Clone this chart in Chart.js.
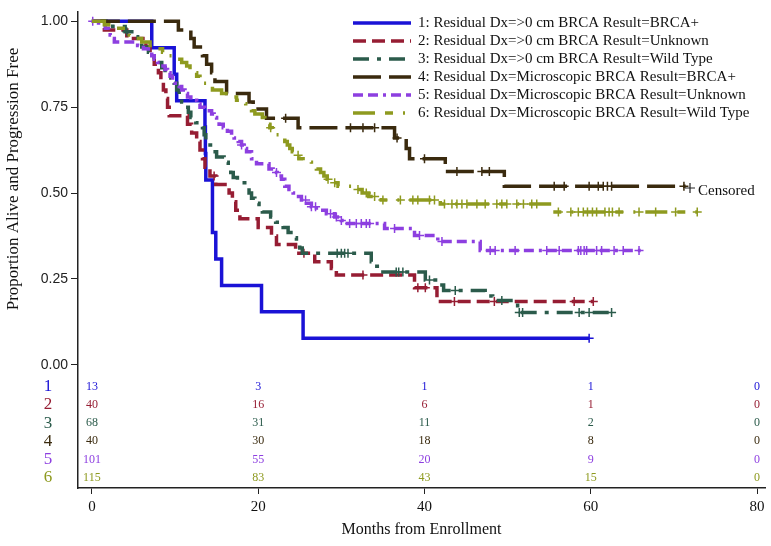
<!DOCTYPE html>
<html>
<head>
<meta charset="utf-8">
<script src="https://cdn.jsdelivr.net/npm/chart.js@4"></script>
<style>
html, body { margin: 0; padding: 0; background: #fff; }
</style>
</head>
<body>
<canvas id="grafico" width="771" height="546"></canvas>
<script>
// Curvas de Kaplan-Meier: tiempos de evento (meses) y supervivencia tras cada evento
const s1Tiempos = [7.2, 9.9, 10.2, 13.6, 13.65, 13.7, 14.5, 14.9, 15.6, 20.4, 25.4];
const s1Surv = [0.923, 0.846, 0.769, 0.692, 0.615, 0.538, 0.385, 0.308, 0.231, 0.154, 0.077];
const s1Cens = [59.8];

const s2Tiempos = [1.5, 4.2, 6.5, 7.0, 7.5, 8.0, 8.3, 8.6, 8.9, 9.1, 9.3, 11.5, 12.0, 12.6, 13.0, 13.3, 13.6, 14.2, 14.9, 16.5, 16.9, 17.3, 17.8, 20.0, 21.6, 22.2, 24.5, 26.8, 28.8, 29.4, 38.8, 41.5];
const s2Surv = [0.975, 0.95, 0.925, 0.90, 0.875, 0.85, 0.825, 0.80, 0.775, 0.75, 0.725, 0.70, 0.675, 0.65, 0.625, 0.60, 0.575, 0.55, 0.525, 0.50, 0.475, 0.45, 0.425, 0.40, 0.375, 0.35, 0.325, 0.30, 0.28, 0.261, 0.224, 0.184];
const s2Cens = [14.7, 25.5, 32.6, 39.2, 40.1, 43.6, 48.4, 58.0, 60.3];

const s3Tiempos = [2.5, 4.0, 4.8, 5.5, 6.0, 6.8, 7.5, 8.0, 8.4, 8.8, 9.5, 9.9, 10.2, 10.5, 10.8, 11.3, 11.6, 11.9, 12.5, 13.3, 13.5, 13.7, 13.9, 14.5, 15.0, 15.9, 16.4, 16.7, 17.0, 17.5, 18.6, 18.9, 19.2, 19.6, 20.1, 20.5, 21.5, 22.1, 23.0, 23.6, 24.3, 24.6, 25.0, 25.3, 33.6, 34.0, 35.0, 40.1, 41.8, 42.3, 47.3, 48.2, 51.2];
const s3Surv = [0.985, 0.97, 0.955, 0.94, 0.925, 0.91, 0.895, 0.88, 0.865, 0.85, 0.835, 0.82, 0.80, 0.785, 0.765, 0.75, 0.735, 0.72, 0.705, 0.69, 0.67, 0.655, 0.64, 0.62, 0.605, 0.59, 0.575, 0.56, 0.545, 0.53, 0.515, 0.50, 0.485, 0.47, 0.46, 0.445, 0.43, 0.415, 0.40, 0.385, 0.37, 0.355, 0.34, 0.325, 0.30, 0.287, 0.27, 0.247, 0.232, 0.216, 0.20, 0.187, 0.152];
const s3Cens = [4.2, 29.5, 30.0, 30.4, 30.8, 36.6, 36.9, 37.4, 40.6, 43.7, 49.3, 51.4, 51.8, 58.6, 59.8, 62.5];

const s4Tiempos = [10.4, 11.9, 12.3, 13.3, 13.8, 14.4, 14.8, 16.2, 18.9, 19.4, 21.0, 24.8, 36.4, 37.8, 38.2, 42.5, 49.6];
const s4Surv = [0.975, 0.95, 0.925, 0.90, 0.875, 0.85, 0.825, 0.79, 0.765, 0.745, 0.718, 0.69, 0.66, 0.63, 0.60, 0.563, 0.52];
const s4Cens = [23.3, 31.1, 32.6, 34.0, 36.7, 40.0, 43.9, 46.9, 47.8, 55.6, 56.8, 59.8, 60.9, 61.5, 62.0, 62.5, 71.2];

const s5Tiempos = [0.8, 1.6, 2.0, 2.2, 2.4, 2.7, 5.5, 6.2, 6.8, 7.2, 7.5, 7.9, 8.3, 8.8, 9.1, 9.4, 9.7, 10.0, 10.5, 10.8, 11.2, 11.5, 11.9, 12.6, 13.0, 13.6, 14.4, 14.7, 15.0, 15.3, 15.8, 16.3, 16.8, 17.1, 17.6, 18.0, 18.3, 18.6, 19.2, 19.8, 21.3, 21.8, 22.3, 22.8, 23.2, 23.7, 24.2, 24.6, 25.2, 25.8, 26.4, 27.0, 28.2, 29.2, 30.0, 30.5, 35.2, 38.8, 41.6, 46.7];
const s5Surv = [0.99, 0.98, 0.97, 0.96, 0.95, 0.94, 0.93, 0.92, 0.91, 0.90, 0.89, 0.88, 0.87, 0.86, 0.85, 0.84, 0.83, 0.82, 0.81, 0.80, 0.79, 0.78, 0.77, 0.76, 0.75, 0.74, 0.73, 0.72, 0.71, 0.70, 0.69, 0.68, 0.67, 0.66, 0.65, 0.64, 0.63, 0.62, 0.60, 0.585, 0.57, 0.56, 0.55, 0.54, 0.52, 0.51, 0.50, 0.49, 0.48, 0.47, 0.46, 0.45, 0.44, 0.43, 0.42, 0.411, 0.397, 0.376, 0.359, 0.333];
const s5Cens = [0.1, 18.0, 22.2, 25.7, 26.4, 26.9, 28.7, 29.4, 30.0, 31.0, 31.8, 32.4, 33.0, 33.4, 36.4, 39.4, 42.1, 47.9, 48.5, 50.9, 54.7, 56.2, 58.5, 58.8, 59.2, 59.5, 60.7, 61.3, 62.8, 63.9, 65.8];

const s6Tiempos = [1.5, 2.5, 4.0, 4.5, 5.3, 6.0, 7.0, 8.0, 8.5, 9.0, 10.0, 10.8, 11.4, 11.8, 12.3, 12.6, 13.0, 13.4, 14.0, 14.5, 15.6, 16.8, 17.4, 17.8, 18.5, 19.2, 19.6, 20.5, 20.8, 21.1, 21.4, 21.7, 22.0, 22.6, 23.2, 23.5, 23.8, 24.1, 24.5, 24.9, 25.4, 26.4, 27.0, 27.5, 27.9, 28.3, 28.7, 29.6, 31.5, 32.5, 33.3, 34.8, 41.9, 55.3];
const s6Surv = [0.99, 0.98, 0.97, 0.96, 0.95, 0.94, 0.93, 0.92, 0.91, 0.90, 0.89, 0.88, 0.87, 0.86, 0.85, 0.84, 0.83, 0.82, 0.81, 0.80, 0.79, 0.78, 0.77, 0.76, 0.75, 0.74, 0.73, 0.72, 0.71, 0.70, 0.69, 0.68, 0.67, 0.66, 0.65, 0.64, 0.63, 0.62, 0.61, 0.60, 0.59, 0.58, 0.57, 0.56, 0.55, 0.54, 0.53, 0.52, 0.51, 0.50, 0.49, 0.48, 0.468, 0.445];
const s6Cens = [21.5, 24.8, 28.4, 29.2, 32.0, 33.0, 34.0, 35.0, 37.1, 38.6, 39.2, 40.6, 41.2, 42.4, 43.3, 43.9, 44.5, 45.1, 46.3, 47.3, 48.7, 49.3, 49.9, 51.1, 51.9, 52.9, 53.5, 56.1, 57.6, 58.5, 59.1, 59.6, 60.2, 60.7, 61.7, 62.2, 62.6, 63.4, 65.8, 67.8, 70.2, 72.8];

// ultimo seguimiento de cada grupo
const finSeguimiento = [59.8, 60.3, 62.7, 71.4, 66.0, 72.8];

// tabla de pacientes en riesgo
const mesesRiesgo = [0, 20, 40, 60, 80];
const riesgo1 = [13, 3, 1, 1, 0];
const riesgo2 = [40, 16, 6, 1, 0];
const riesgo3 = [68, 31, 11, 2, 0];
const riesgo4 = [40, 30, 18, 8, 0];
const riesgo5 = [101, 55, 20, 9, 0];
const riesgo6 = [115, 83, 43, 15, 0];

const etiquetas = [
    '1: Residual Dx=>0 cm BRCA Result=BRCA+',
    '2: Residual Dx=>0 cm BRCA Result=Unknown',
    '3: Residual Dx=>0 cm BRCA Result=Wild Type',
    '4: Residual Dx=Microscopic BRCA Result=BRCA+',
    '5: Residual Dx=Microscopic BRCA Result=Unknown',
    '6: Residual Dx=Microscopic BRCA Result=Wild Type'
];
const ticksX = [0, 20, 40, 60, 80];
const ticksY = [0, 0.25, 0.5, 0.75, 1];

const colores = ['#1a12d6', '#961d33', '#2b5b4b', '#3a2a0e', '#8d3fe0', '#8e9a1f'];
const guiones = [[], [13, 6], [16, 8, 4, 8], [28, 8], [10, 5, 10, 5, 3, 5], [22, 10, 8, 10, 2, 10]];

const grupos = [
    [s1Tiempos, s1Surv, s1Cens, riesgo1],
    [s2Tiempos, s2Surv, s2Cens, riesgo2],
    [s3Tiempos, s3Surv, s3Cens, riesgo3],
    [s4Tiempos, s4Surv, s4Cens, riesgo4],
    [s5Tiempos, s5Surv, s5Cens, riesgo5],
    [s6Tiempos, s6Surv, s6Cens, riesgo6]
];

const serif = '"Liberation Serif", "Times New Roman", serif';

function valorEn(tiempos, surv, t) {
    let v = 1;
    for (let i = 0; i < tiempos.length; i++) {
        if (tiempos[i] <= t) v = surv[i];
    }
    return v;
}

function escalones(tiempos, surv, fin) {
    const puntos = [{ x: 0, y: 1 }];
    tiempos.forEach((t, i) => puntos.push({ x: t, y: surv[i] }));
    puntos.push({ x: fin, y: surv[surv.length - 1] });
    return puntos;
}

const datasets = [];
grupos.forEach((g, i) => {
    datasets.push({
        type: 'line',
        data: escalones(g[0], g[1], finSeguimiento[i]),
        stepped: true,
        borderColor: colores[i],
        borderWidth: 3.5,
        borderDash: guiones[i],
        pointRadius: 0,
        fill: false,
        order: 6 - i
    });
    datasets.push({
        type: 'scatter',
        data: g[2].map(t => ({ x: t, y: valorEn(g[0], g[1], t) })),
        pointStyle: 'cross',
        pointRadius: 4.5,
        borderColor: colores[i],
        borderWidth: 1.5,
        order: 6 - i
    });
});

// leyenda, tabla de riesgo y titulos de ejes
const extras = {
    id: 'extras',
    afterDraw(chart) {
        const ctx = chart.ctx;
        const ex = chart.scales.x;
        const ey = chart.scales.y;
        ctx.save();

        ctx.textBaseline = 'middle';
        etiquetas.forEach((txt, i) => {
            const yy = 23 + i * 18;
            ctx.strokeStyle = colores[i];
            ctx.lineWidth = 3.5;
            ctx.setLineDash(guiones[i]);
            ctx.beginPath();
            ctx.moveTo(353, yy);
            ctx.lineTo(411, yy);
            ctx.stroke();
            ctx.setLineDash([]);
            ctx.fillStyle = '#111';
            ctx.font = '15px ' + serif;
            ctx.textAlign = 'left';
            ctx.fillText(txt, 418, yy);
        });

        // marca de censura
        ctx.strokeStyle = '#222';
        ctx.lineWidth = 1.2;
        ctx.beginPath();
        ctx.moveTo(685, 188); ctx.lineTo(695, 188);
        ctx.moveTo(690, 183); ctx.lineTo(690, 193);
        ctx.stroke();
        ctx.fillStyle = '#111';
        ctx.font = '15px ' + serif;
        ctx.fillText('Censored', 698, 191);

        // tabla de riesgo
        const y0 = ey.getPixelForValue(0);
        grupos.forEach((g, i) => {
            const yy = y0 + 22 + i * 18.2;
            ctx.fillStyle = colores[i];
            ctx.font = '17px ' + serif;
            ctx.textAlign = 'center';
            ctx.fillText(String(i + 1), 48, yy);
            ctx.font = '12px ' + serif;
            g[3].forEach((n, j) => {
                ctx.fillText(String(n), ex.getPixelForValue(mesesRiesgo[j]), yy);
            });
        });

        // titulos
        ctx.fillStyle = '#111';
        ctx.font = '16px ' + serif;
        ctx.textAlign = 'center';
        ctx.fillText('Months from Enrollment', (ex.left + ex.right) / 2, 530);
        ctx.save();
        ctx.font = '17px ' + serif;
        ctx.translate(14, (ey.getPixelForValue(0) + ey.getPixelForValue(1)) / 2 - 14);
        ctx.rotate(-Math.PI / 2);
        ctx.fillText('Proportion Alive and Progression Free', 0, 0);
        ctx.restore();

        ctx.restore();
    }
};

const ctx = document.getElementById('grafico').getContext('2d');
new Chart(ctx, {
    data: { datasets: datasets },
    options: {
        responsive: false,
        animation: false,
        devicePixelRatio: 1,
        layout: { padding: { top: 5, right: 1, left: 0, bottom: 0 } },
        plugins: {
            legend: { display: false },
            tooltip: { enabled: false }
        },
        scales: {
            x: {
                type: 'linear',
                min: -1.67,
                max: 80.95,
                afterBuildTicks: s => { s.ticks = ticksX.map(v => ({ value: v })); },
                afterFit: s => { s.height = 58; },
                grid: { drawOnChartArea: false, drawTicks: true, tickLength: 6, color: '#222' },
                border: { display: true, color: '#222', width: 1.5 },
                ticks: { color: '#111', font: { family: serif, size: 15 }, padding: 4 }
            },
            y: {
                type: 'linear',
                min: -0.359,
                max: 1.029,
                afterBuildTicks: s => { s.ticks = ticksY.map(v => ({ value: v })); },
                afterFit: s => { s.width = 78; },
                grid: { drawOnChartArea: false, drawTicks: true, tickLength: 7, color: '#222' },
                border: { display: true, color: '#222', width: 1.5 },
                ticks: {
                    color: '#222',
                    font: { family: '"Liberation Sans", Arial, sans-serif', size: 14 },
                    padding: 3,
                    callback: v => v.toFixed(2)
                }
            }
        }
    },
    plugins: [extras]
});
</script>
</body>
</html>
